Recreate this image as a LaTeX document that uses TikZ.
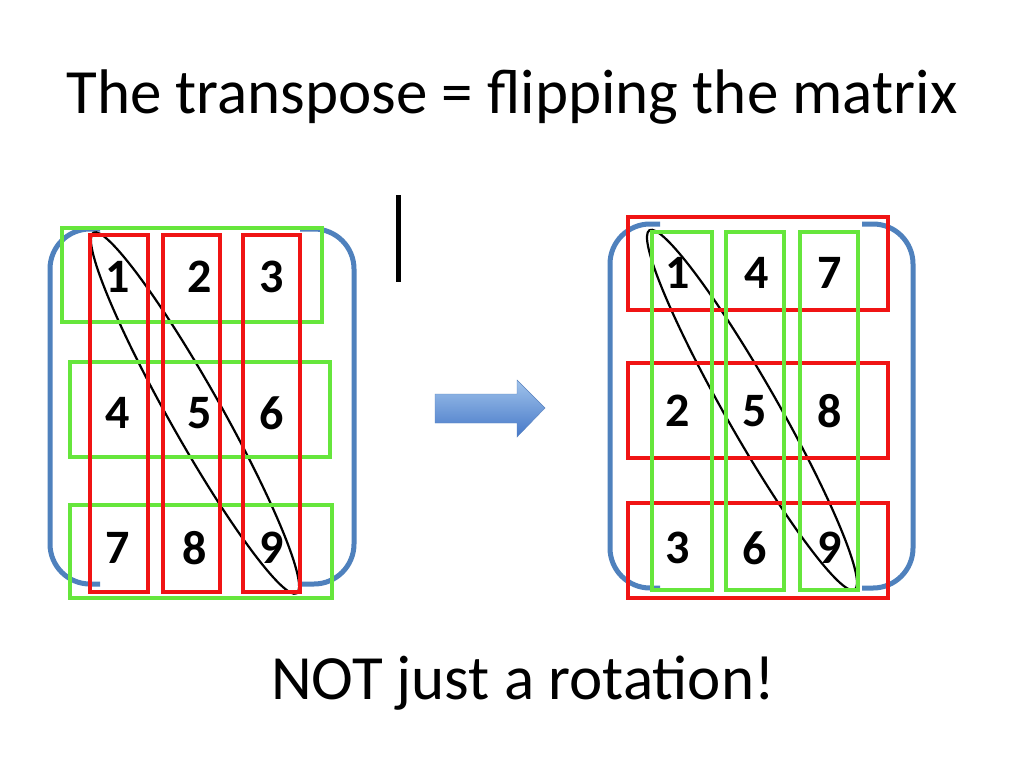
\documentclass[tikz,border=0pt]{standalone}
\usepackage{fontspec}
\setmainfont{Carlito}
\begin{document}
\begin{tikzpicture}[x=1pt,y=-1pt,
  grn/.style={draw={rgb,255:red,102;green,230;blue,60},line width=4.5pt},
  redb/.style={draw={rgb,255:red,240;green,20;blue,20},line width=4.5pt},
  brk/.style={draw={rgb,255:red,79;green,129;blue,189},line width=5pt,rounded corners=40pt},
  num/.style={font=\fontsize{48}{52}\selectfont\bfseries},
  ell/.style={draw=black,line width=2.2pt}]
\useasboundingbox[fill=white] (0,0) rectangle (1024,768);
\node (title) at (512,97) {\fontsize{63}{70}\selectfont The transpose = flipping the matrix};
\node (foot) at (523,683) {\fontsize{63}{70}\selectfont NOT just a rotation!};
\draw[line width=5pt] (398,195) -- (398,282);
% left matrix
\draw[brk] (100,229) -- (50,229) -- (50,584) -- (100,584);
\draw[brk] (300,229) -- (354,229) -- (354,584) -- (300,584);
\draw[ell,rotate around={-60.6:(195,413)}] (195,413) ellipse[x radius=207pt,y radius=26pt];
\foreach \x/\y/\t [count=\i] in {118/277/1,200/277/2,272/277/3,118/413/4,200/413/5,272/413/6,118/548/7,195/548/8,272/548/9}
  \node[num] (L\i) at (\x,\y) {\t};
\draw[grn] (62,228) rectangle (322,322);
\draw[grn] (70,362) rectangle (330,457);
\draw[grn] (70,505) rectangle (332,598);
\draw[redb] (90,235) rectangle (148,592);
\draw[redb] (163,235) rectangle (220,592);
\draw[redb] (243,235) rectangle (300,592);
% arrow
\shade[top color={rgb,255:red,160;green,195;blue,235},bottom color={rgb,255:red,70;green,120;blue,200},draw={rgb,255:red,90;green,130;blue,190}]
 (435,394) -- (517,394) -- (517,380) -- (545,408) -- (517,437) -- (517,423) -- (435,423) -- cycle;
% right matrix
\draw[brk] (660,224) -- (610,224) -- (610,588) -- (660,588);
\draw[brk] (862,224) -- (913,224) -- (913,588) -- (862,588);
\draw[ell,rotate around={-60.3:(752,410)}] (752,410) ellipse[x radius=207pt,y radius=26pt];
\foreach \x/\y/\t [count=\i] in {678/273/1,757/273/4,830/273/7,678/411/2,755/411/5,830/411/8,678/548/3,755/548/6,830/548/9}
  \node[num] (R\i) at (\x,\y) {\t};
\draw[redb] (628,217) rectangle (888,310);
\draw[redb] (628,363) rectangle (888,458);
\draw[redb] (628,503) rectangle (888,598);
\draw[grn] (652,232) rectangle (712,590);
\draw[grn] (726,232) rectangle (784,590);
\draw[grn] (800,232) rectangle (858,590);
\end{tikzpicture}
\end{document}
